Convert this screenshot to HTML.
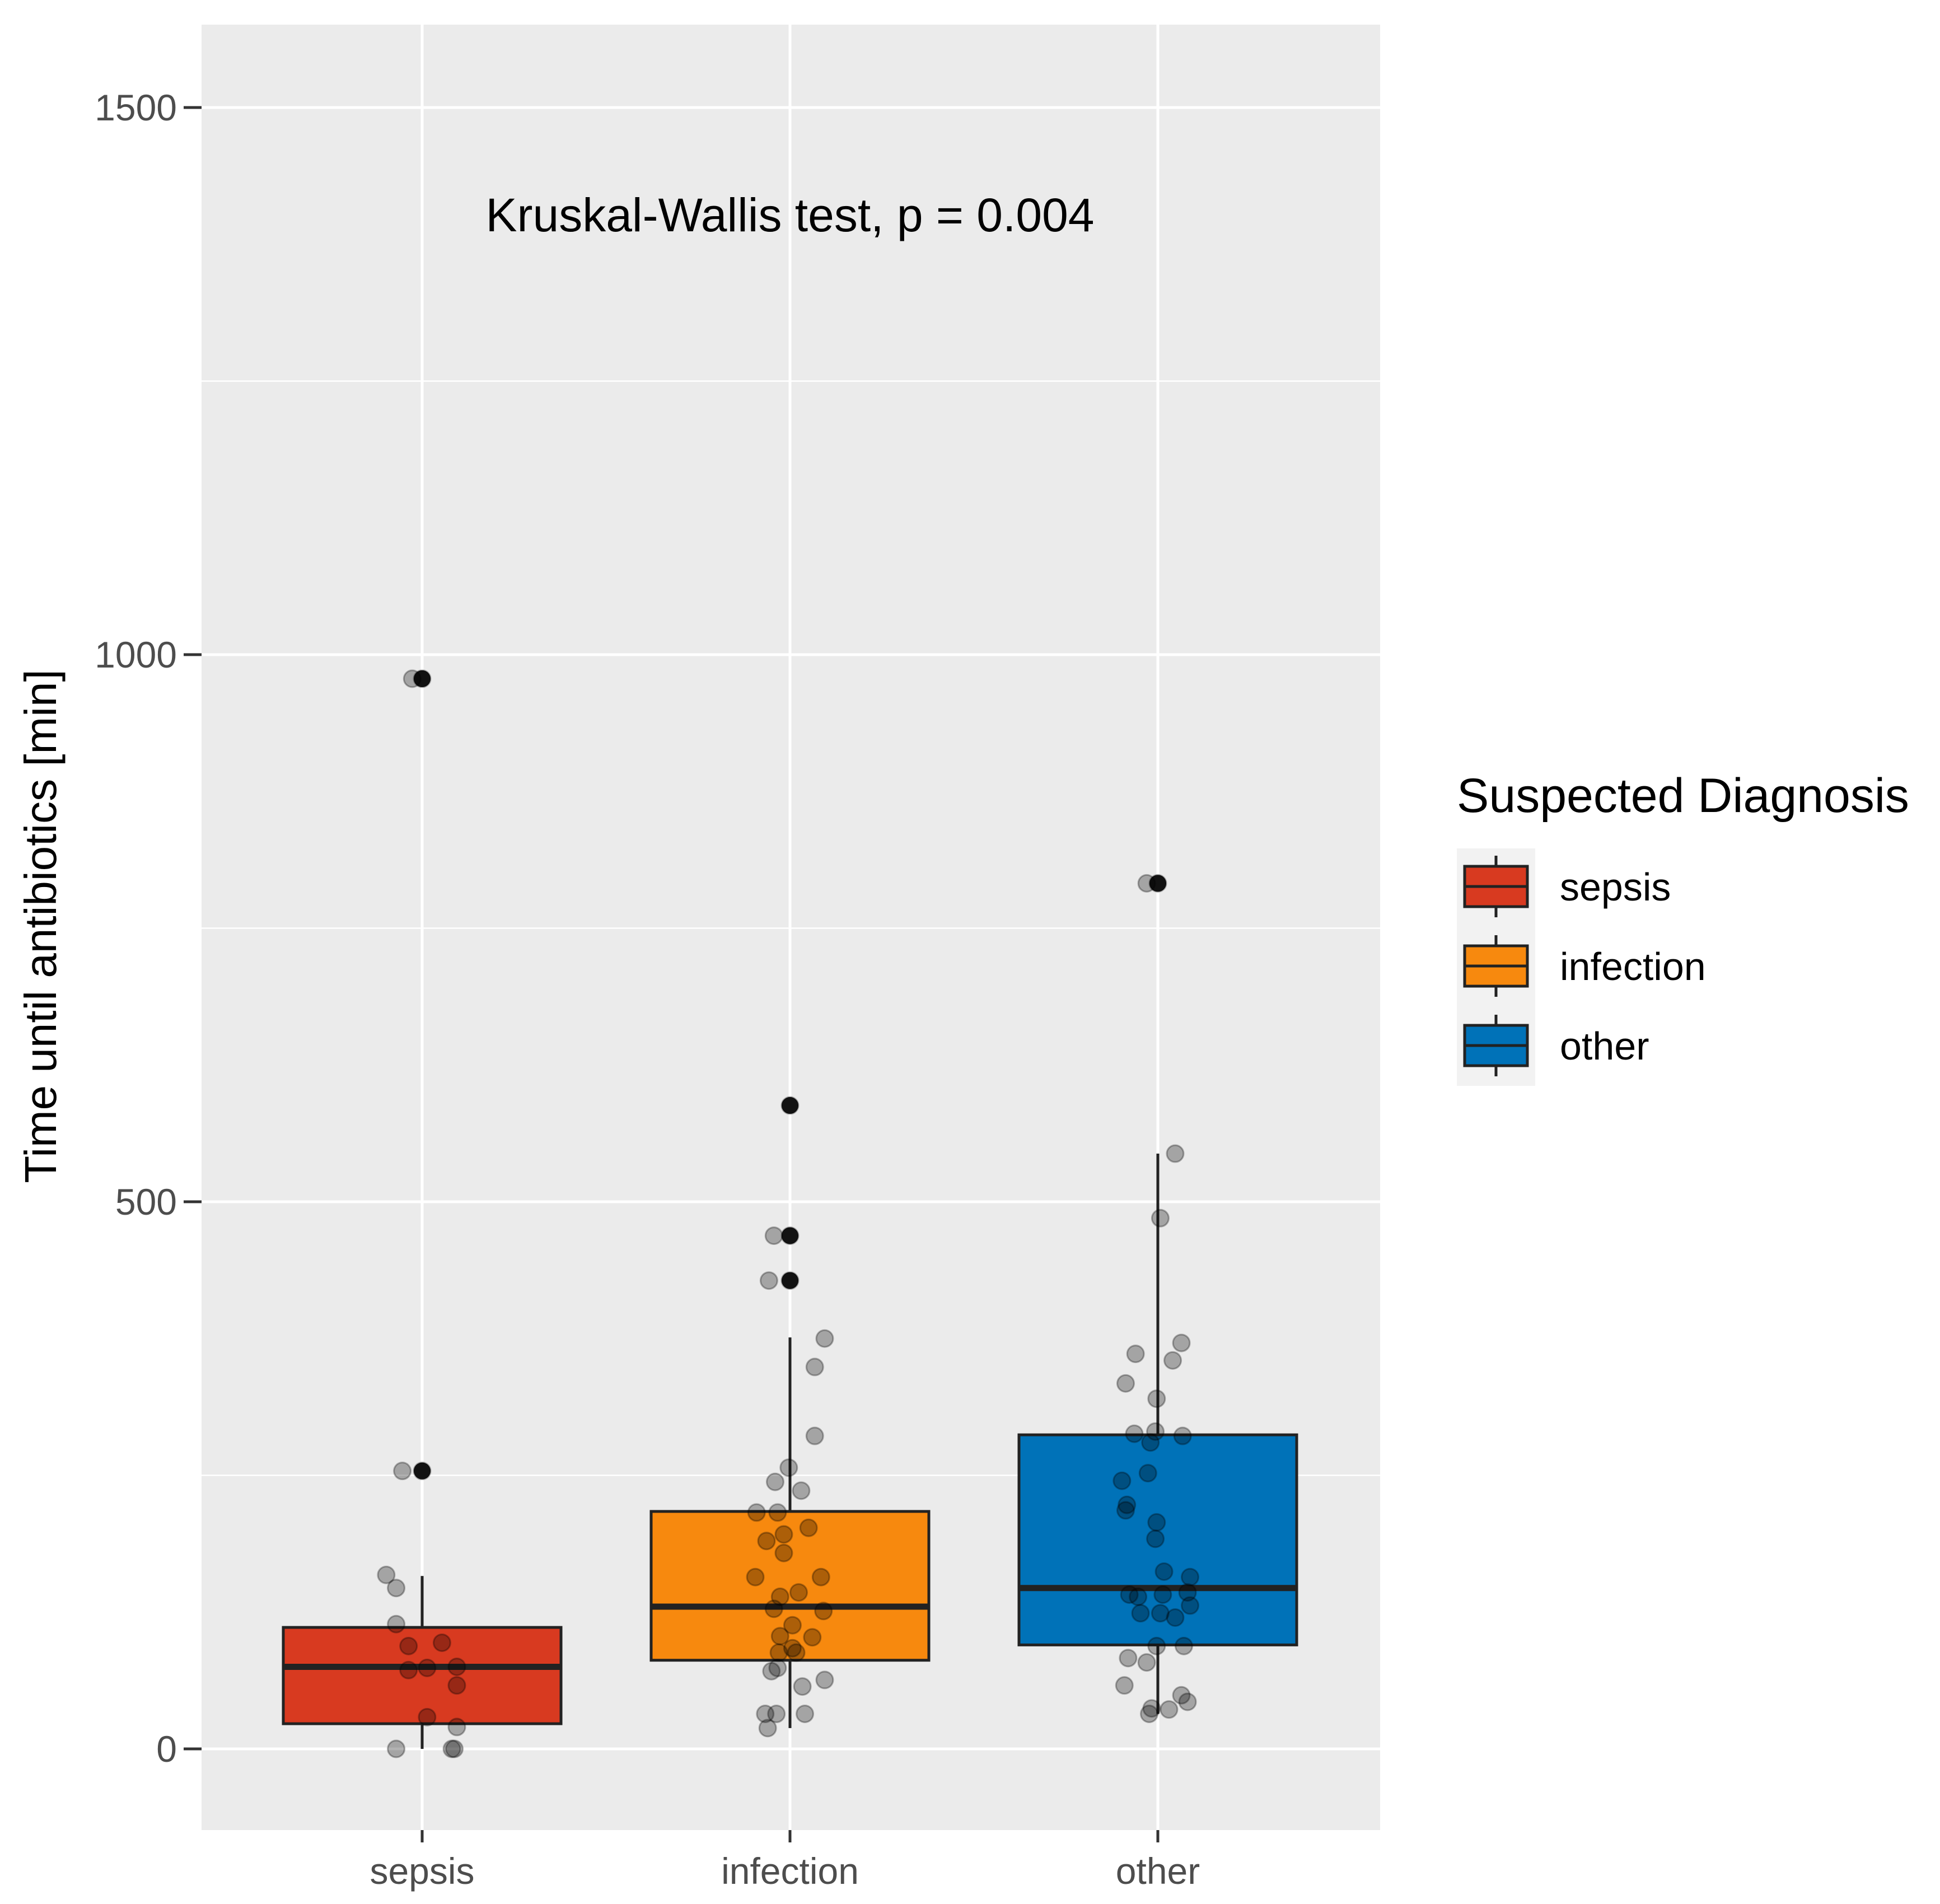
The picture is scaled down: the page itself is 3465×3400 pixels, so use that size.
<!DOCTYPE html>
<html><head><meta charset="utf-8"><style>
html,body{margin:0;padding:0;background:#fff}
svg{display:block}
text{font-family:"Liberation Sans",sans-serif}
</style></head><body>
<svg id="chart" width="3465" height="3400" viewBox="0 0 3465 3400" xmlns="http://www.w3.org/2000/svg">
<rect x="0" y="0" width="3465" height="3400" fill="#fff"/>
<g id="plot"></g>
</svg>
<script>
const categories = ["sepsis","infection","other"];
const colors = ["#D83A20","#F7890E","#0072B8"];
const q1 = [23, 81, 95];
const medians = [75, 130, 147];
const q3 = [111, 217, 287];
const whiskerLow = [0, 19, 32];
const whiskerHigh = [158, 376, 544];
const outliers = [[978, 254], [588, 469, 428], [791]];
const yTicks = [0, 500, 1000, 1500];
const yMinor = [250, 750, 1250];
// jittered points: [value, jitter offset in display px of a 297px category step]
const sepsisPts = [[978,-8],[978,0],[254,-16],[254,0],[159,-29],[147,-21],[114,-21],[94,-11],[97,16],[72,-11],[74,4],[75,28],[58,28],[29,4],[20,28],[0,-21],[0,24],[0,26]];
const infectionPts = [[469,-13],[469,0],[428,-17],[428,0],[588,0],[375,28],[349,20],[286,20],[257,-1],[244,-12],[236,9],[216,-27],[216,-10],[202,15],[196,-5],[190,-19],[179,-5],[157,-28],[157,25],[143,7],[139,-8],[128,-13],[126,27],[113,2],[103,-8],[102,18],[92,2],[88,-9],[88,5],[71,-15],[74,-10],[57,10],[63,28],[32,-20],[32,-11],[32,12],[19,-18]];
const otherPts = [[791,-9],[791,0],[544,14],[485,2],[371,19],[361,-18],[355,12],[334,-26],[320,-1],[288,-19],[290,-2],[286,20],[280,-6],[252,-8],[245,-29],[223,-25],[218,-26],[207,-1],[192,-2],[162,5],[157,26],[141,-23],[139,-16],[141,4],[143,24],[124,-14],[124,2],[131,26],[120,14],[94,-1],[94,21],[83,-24],[79,-9],[58,-27],[49,19],[37,-5],[36,9],[43,24],[32,-7]];
const points = [sepsisPts, infectionPts, otherPts];

const NS = "http://www.w3.org/2000/svg";
const g = document.getElementById("plot");
const PX0 = 360, PX1 = 2465, PY0 = 44, PY1 = 3268;
const Y0 = 3123, Y1500 = 192;
function yScale(v){ return Y0 + (Y1500 - Y0) * v / 1500; }
const catStep = 657;
function xScale(i){ return 754 + i * catStep; }
function mk(tag, attrs, parent){
  const e = document.createElementNS(NS, tag);
  for (const k in attrs) e.setAttribute(k, attrs[k]);
  (parent || g).appendChild(e);
  return e;
}
let e;
e = mk("rect",{x:PX0,y:PY0,width:PX1-PX0,height:PY1-PY0,fill:"#EBEBEB"});


yMinor.forEach(v=>{
  e = mk("line",{x1:PX0,x2:PX1,y1:yScale(v),y2:yScale(v),stroke:"#fff","stroke-width":2.5});
  
  
});
yTicks.forEach(v=>{
  const y = yScale(v);
  e = mk("line",{x1:PX0,x2:PX1,y1:y,y2:y,stroke:"#fff","stroke-width":5});
  
  
  e = mk("line",{x1:328,x2:PX0,y1:y,y2:y,stroke:"#333","stroke-width":5});
  
  
  e = mk("text",{x:316,y:y+23,"text-anchor":"end","font-size":66,fill:"#4d4d4d"});
  e.textContent = v;
  
  
});
categories.forEach((c,i)=>{
  const x = xScale(i);
  e = mk("line",{x1:x,x2:x,y1:PY0,y2:PY1,stroke:"#fff","stroke-width":5});
  
  
  e = mk("line",{x1:x,x2:x,y1:PY1,y2:PY1+22,stroke:"#333","stroke-width":5});
  
  
  e = mk("text",{x:x,y:3364,"text-anchor":"middle","font-size":66,fill:"#4d4d4d"});
  e.textContent = c;
  
  
});
const hw = 248;
categories.forEach((c,i)=>{
  const x = xScale(i);
  e = mk("line",{x1:x,x2:x,y1:yScale(whiskerHigh[i]),y2:yScale(q3[i]),stroke:"#222","stroke-width":5});
  
  
  e = mk("line",{x1:x,x2:x,y1:yScale(q1[i]),y2:yScale(whiskerLow[i]),stroke:"#222","stroke-width":5});
  
  
  outliers[i].forEach(v=>{
    e = mk("circle",{cx:x,cy:yScale(v),r:15,fill:"#1a1a1a"});
    
    
  });
  e = mk("rect",{x:x-hw,y:yScale(q3[i]),width:2*hw,height:yScale(q1[i])-yScale(q3[i]),fill:colors[i],stroke:"#222","stroke-width":5});
  
  
  e = mk("line",{x1:x-hw,x2:x+hw,y1:yScale(medians[i]),y2:yScale(medians[i]),stroke:"#222","stroke-width":11});
  
  
});
points.forEach((arr,i)=>{
  arr.forEach(p=>{
    const x = xScale(i) + p[1]/297*catStep;
    e = mk("circle",{cx:x,cy:yScale(p[0]),r:15,fill:"#000","fill-opacity":0.3,stroke:"#000","stroke-opacity":0.3,"stroke-width":3});
    
    
  });
});
e = mk("text",{x:1411,y:413,"text-anchor":"middle","font-size":84,fill:"#000"});
e.textContent = "Kruskal-Wallis test, p = 0.004";


e = mk("text",{x:0,y:0,"text-anchor":"middle","font-size":80,fill:"#000",transform:"translate(100,1654) rotate(-90)"});
e.textContent = "Time until antibiotics [min]";


// legend
e = mk("text",{x:2602,y:1450,"font-size":86,fill:"#000"});
e.textContent = "Suspected Diagnosis";


e = mk("rect",{x:2602,y:1515,width:140,height:424,fill:"#F2F2F2"});


categories.forEach((c,i)=>{
  const cy = 1583 + i*142;
  const lg = mk("g",{});
  
  
  mk("line",{x1:2672,x2:2672,y1:cy-55,y2:cy+55,stroke:"#222","stroke-width":5},lg);
  mk("rect",{x:2616,y:cy-36,width:112,height:72,fill:colors[i],stroke:"#222","stroke-width":5},lg);
  mk("line",{x1:2616,x2:2728,y1:cy,y2:cy,stroke:"#222","stroke-width":5},lg);
  const t = mk("text",{x:2786,y:cy+25,"font-size":70,fill:"#000"},lg);
  t.textContent = c;
});
</script>
</body></html>
